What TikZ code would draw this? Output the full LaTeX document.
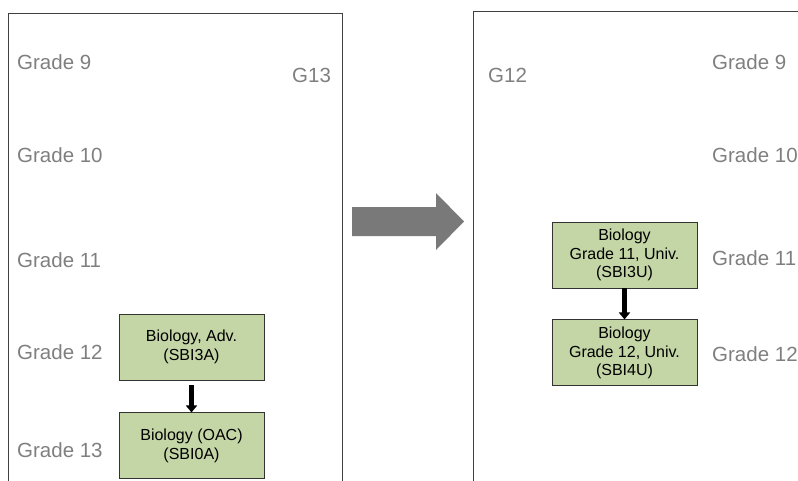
\documentclass[tikz,border=0pt]{standalone}
\usepackage{fontspec}
\setmainfont{Liberation Sans}
\usepackage{xcolor}
\usepackage{tikz}
\usetikzlibrary{arrows.meta, positioning}

\definecolor{coursegreen}{HTML}{C4D5A6}
\definecolor{labelgray}{HTML}{7F7F7F}

\begin{document}
\begin{tikzpicture}[
        x=1pt, y=-1pt,
        node distance=32pt,
        course/.style={rectangle, draw=black!80, line width=0.9pt, fill=coursegreen, minimum width=145pt, minimum height=66pt, inner sep=2pt, align=center, font=\fontsize{16}{18.5}\selectfont},
        grade/.style={anchor=west, inner sep=0pt, text=labelgray, font=\fontsize{20.5}{24}\selectfont},
        frame/.style={draw=black!75, line width=0.9pt},
        line/.style={draw, line width=4.5pt, -{Triangle[width=11pt, length=7pt]}}
    ]
    \useasboundingbox (0,0) rectangle (798,480);
    \clip (0,0) rectangle (798,480);

    % old system
    \path [frame] (8,481) -- (8,13) -- (342,13) -- (342,481);
    \node [grade] (oldg9) at (17,62) {Grade 9};
    \node [grade] (oldg10) at (17,155) {Grade 10};
    \node [grade] (oldg11) at (17,260) {Grade 11};
    \node [grade] (oldg12) at (17,352) {Grade 12};
    \node [grade] (oldg13) at (17,450) {Grade 13};
    \node [grade] (oldtag) at (292,75) {G13};

    \node [course] (sbi3a) at (191.5,347) {Biology, Adv.\\(SBI3A)};
    \node [course, below=of sbi3a] (sbi0a) {Biology (OAC)\\(SBI0A)};
    \path [line, shorten <=5pt] (sbi3a) -- (sbi0a);

    % big arrow
    \fill [labelgray!95!black] (352,207) -- (436,207) -- (436,193) -- (464,221.5) -- (436,250) -- (436,236) -- (352,236) -- cycle;

    % new system
    \path [frame] (473,481) -- (473,11) -- (800,11);
    \node [grade] (newtag) at (488,75) {G12};
    \node [grade] (newg9) at (712,62) {Grade 9};
    \node [grade] (newg10) at (712,155) {Grade 10};
    \node [grade] (newg11) at (712,258) {Grade 11};
    \node [grade] (newg12) at (712,354) {Grade 12};

    \node [course] (sbi3u) at (624.5,255) {Biology\\Grade 11, Univ.\\(SBI3U)};
    \node [course, below=31pt of sbi3u] (sbi4u) {Biology\\Grade 12, Univ.\\(SBI4U)};
    \path [line] (sbi3u) -- (sbi4u);

\end{tikzpicture}
\end{document}
